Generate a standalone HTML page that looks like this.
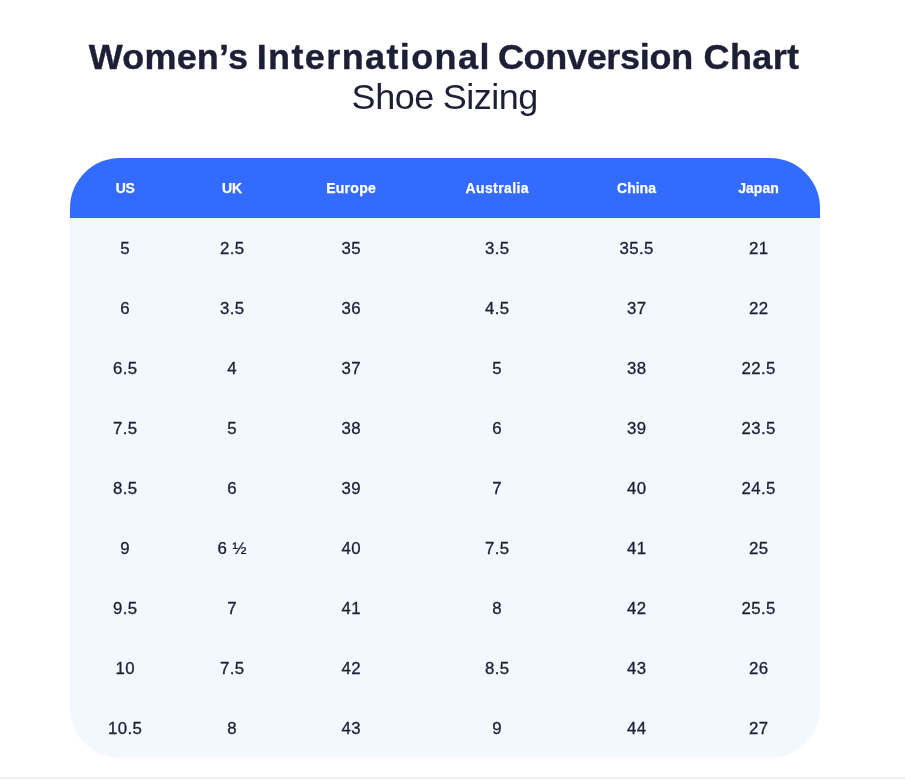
<!DOCTYPE html>
<html lang="en">
<head>
<meta charset="utf-8">
<title>Women's International Conversion Chart</title>
<style>
html,body{margin:0;padding:0;background:#fff;}
body{width:905px;height:779px;position:relative;overflow:hidden;font-family:"Liberation Sans",sans-serif;color:#1c1f35;}
h1,h2{position:absolute;left:0;width:905px;height:40px;margin:0;font-size:36px;line-height:40px;white-space:nowrap;}
h1{top:37px;font-weight:700;}
h2{top:77px;font-weight:400;}
h1 span,h2 span{position:absolute;top:0;transform:scaleY(0.955);transform-origin:0 32px;}
h1 span{-webkit-text-stroke:0.4px #1c1f35;}
table{position:absolute;left:70px;top:158px;width:750px;border-collapse:separate;border-spacing:0;background:#f3f7fe;border-radius:50px;overflow:hidden;table-layout:fixed;}
th{background:#336bff;color:#fff;height:60px;padding:0;font-size:14px;font-weight:700;text-align:center;-webkit-text-stroke:0.25px #fff;}
td{height:58px;padding:2px 0 0 0.4px;font-size:16px;text-align:center;letter-spacing:0.4px;transform:scaleX(1.05);-webkit-text-stroke:0.3px #1c1f35;}
.foot{position:absolute;left:0;top:777px;width:905px;height:2px;background:#f1f1f1;}
</style>
</head>
<body>
<h1><span style="left:88.8px;letter-spacing:0.18px">Women’s</span> <span style="left:256.7px;letter-spacing:1.39px">International</span> <span style="left:497.9px;letter-spacing:-0.31px">Conversion</span> <span style="left:703.6px;letter-spacing:0.35px">Chart</span></h1>
<h2><span style="left:351.6px;letter-spacing:-0.47px">Shoe</span> <span style="left:442.8px;letter-spacing:-0.5px">Sizing</span></h2>
<table>
<colgroup><col style="width:110px"><col style="width:104px"><col style="width:134px"><col style="width:158px"><col style="width:121px"><col style="width:123px"></colgroup>
<thead><tr><th style="letter-spacing:-0.4px">US</th><th>UK</th><th style="letter-spacing:0.3px;padding-left:0.3px">Europe</th><th style="letter-spacing:0.4px;padding-left:0.4px">Australia</th><th>China</th><th>Japan</th></tr></thead>
<tbody>
<tr><td>5</td><td>2.5</td><td>35</td><td>3.5</td><td>35.5</td><td>21</td></tr>
<tr><td>6</td><td>3.5</td><td>36</td><td>4.5</td><td>37</td><td>22</td></tr>
<tr><td>6.5</td><td>4</td><td>37</td><td>5</td><td>38</td><td>22.5</td></tr>
<tr><td>7.5</td><td>5</td><td>38</td><td>6</td><td>39</td><td>23.5</td></tr>
<tr><td>8.5</td><td>6</td><td>39</td><td>7</td><td>40</td><td>24.5</td></tr>
<tr><td>9</td><td>6 ½</td><td>40</td><td>7.5</td><td>41</td><td>25</td></tr>
<tr><td>9.5</td><td>7</td><td>41</td><td>8</td><td>42</td><td>25.5</td></tr>
<tr><td>10</td><td>7.5</td><td>42</td><td>8.5</td><td>43</td><td>26</td></tr>
<tr><td>10.5</td><td>8</td><td>43</td><td>9</td><td>44</td><td>27</td></tr>
</tbody>
</table>
<div class="foot"></div>
</body>
</html>
